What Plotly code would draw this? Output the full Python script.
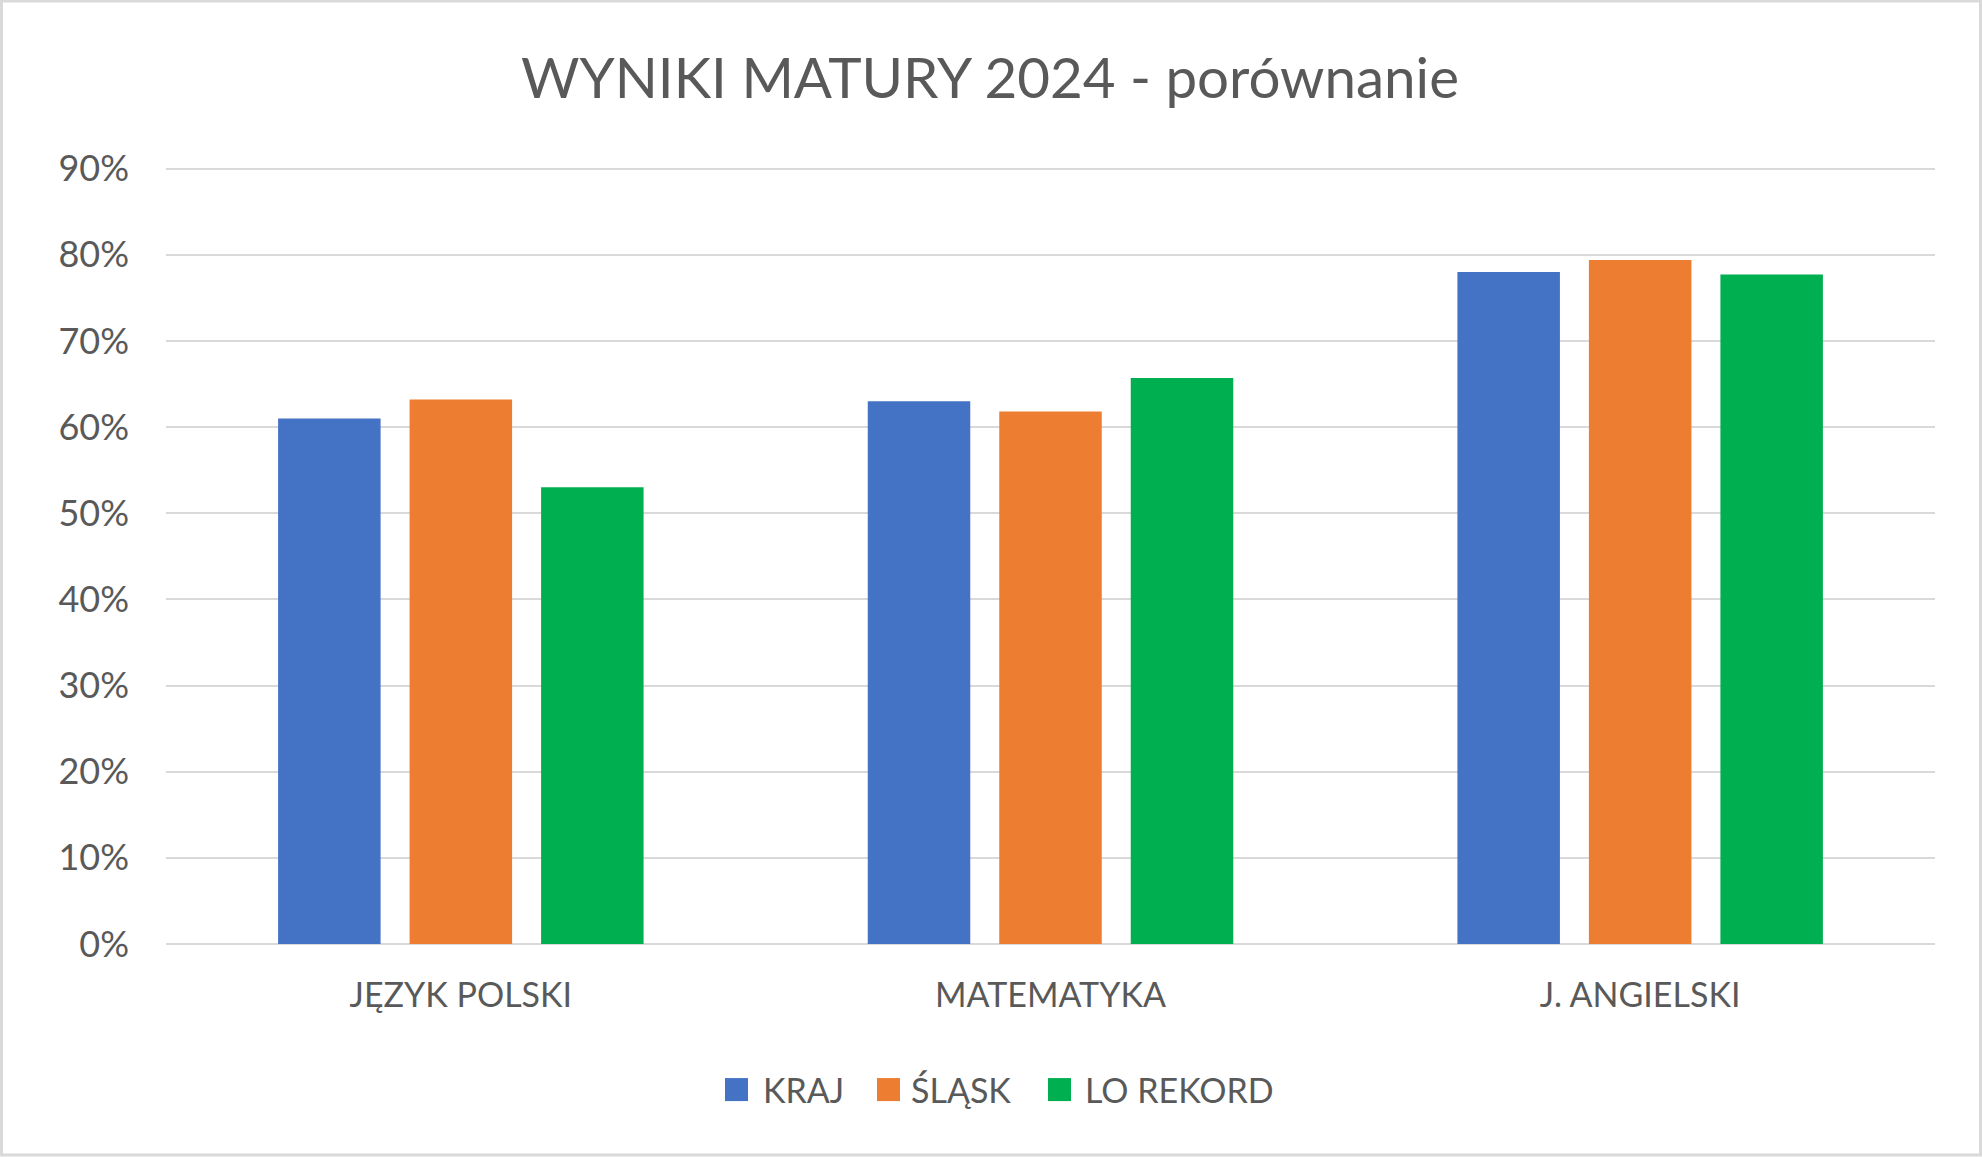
import plotly.graph_objects as go

categories = ["JĘZYK POLSKI", "MATEMATYKA", "J. ANGIELSKI"]
kraj = [0.610, 0.630, 0.780]
slask = [0.632, 0.618, 0.794]
lo_rekord = [0.530, 0.657, 0.777]
series_names = ["KRAJ", "ŚLĄSK", "LO REKORD"]
colors = ["#4472C4", "#ED7D31", "#00B050"]
y_ticks = [0, 0.1, 0.2, 0.3, 0.4, 0.5, 0.6, 0.7, 0.8, 0.9]
y_tick_labels = ["0%", "10%", "20%", "30%", "40%", "50%", "60%", "70%", "80%", "90%"]

W, H = 1982, 1157
L, R, T, B = 166, 47, 166.4, 213
FONT = "Lato"
TXT = "#595959"
pw = W - L - R
ph = H - T - B


def px_x(p):
    return (p - L) / pw


def px_y(p):
    return (H - B - p) / ph


fig = go.Figure()
for name, vals, col in zip(series_names, [kraj, slask, lo_rekord], colors):
    fig.add_trace(go.Bar(x=categories, y=vals, name=name, marker_color=col,
                         marker_line_width=0, showlegend=False))

# chart border
fig.add_shape(type="rect", xref="paper", yref="paper",
              x0=px_x(1.5), x1=px_x(W - 1.5), y0=px_y(H - 2), y1=px_y(1.5),
              line=dict(color="#D9D9D9", width=3), fillcolor="rgba(0,0,0,0)", layer="below")

# legend (square swatches + labels)
leg_sq_x = [725, 877, 1048]
leg_txt_x = [761, 909, 1083]
leg_y0, leg_y1 = 1078, 1101
for name, col, sx, tx in zip(series_names, colors, leg_sq_x, leg_txt_x):
    fig.add_shape(type="rect", xref="paper", yref="paper",
                  x0=px_x(sx), x1=px_x(sx + 23), y0=px_y(leg_y1), y1=px_y(leg_y0),
                  line=dict(width=0), fillcolor=col)
    fig.add_annotation(xref="paper", yref="paper", x=px_x(tx), y=px_y((leg_y0 + leg_y1) / 2),
                       xanchor="left", yanchor="middle", text=name, showarrow=False,
                       font=dict(family=FONT, size=34, color=TXT))

fig.update_layout(
    width=W, height=H,
    margin=dict(l=L, r=R, t=T, b=B),
    paper_bgcolor="white", plot_bgcolor="white",
    font=dict(family=FONT, color=TXT, size=34),
    title=dict(text="WYNIKI MATURY 2024 - porównanie", x=990 / W, xref="container", xanchor="center",
               y=1 - 78.5 / H, yref="container", yanchor="middle",
               font=dict(family=FONT, size=56.5, color=TXT)),
    barmode="group", bargap=0.331, bargroupgap=0.2205,
    showlegend=False,
)
fig.update_yaxes(range=[0, 0.903], tickvals=y_ticks, ticktext=y_tick_labels,
                 showgrid=True, gridcolor="#D9D9D9", gridwidth=2,
                 zeroline=True, zerolinecolor="#D9D9D9", zerolinewidth=2,
                 showline=False, ticks="", ticklabelstandoff=36,
                 tickfont=dict(family=FONT, size=36, color=TXT))
fig.update_xaxes(showgrid=False, showline=False, ticks="", ticklabelstandoff=28,
                 tickfont=dict(family=FONT, size=34, color=TXT))

fig.write_html("out.html", config={"displayModeBar": False},
               post_script="document.body.style.margin='0';document.body.style.overflow='hidden';")
